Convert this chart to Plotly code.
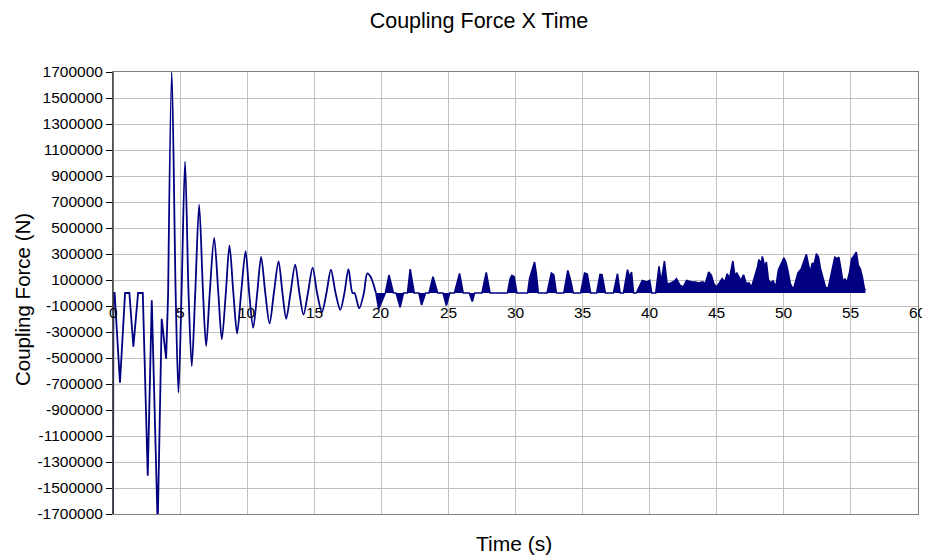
import plotly.graph_objects as go

# ---- data ----
# Part 1: damped oscillation (line), time in s, force in N
t_osc = [0.00, 0.03, 0.12, 0.52, 0.90, 1.22, 1.52, 1.87, 2.22, 2.59, 2.89, 3.33, 3.63, 3.96,
         4.11, 4.38, 4.67, 4.88, 5.11, 5.37, 5.63, 5.87, 6.13, 6.42, 6.71, 6.94, 7.21,
         7.54, 7.85, 8.11, 8.41, 8.68, 8.97, 9.25, 9.55, 9.88, 10.15, 10.45, 10.75, 11.04,
         11.35, 11.67, 11.99, 12.34, 12.63, 12.91, 13.23, 13.58, 13.89, 14.20, 14.53, 14.88,
         15.21, 15.57, 15.91, 16.24, 16.59, 16.94, 17.25, 17.55, 17.85, 18.00, 18.35, 18.70,
         18.95, 19.20, 19.60]
v_osc = [-1800000, 0, 0, -690000, 0, 0, -413000, 0, 0, -1406000, -55000, -1800000, -198000, -505000,
         0, 1700000, 0, -766000, 0, 1011000, 0, -562000, 0, 679000, 0, -408000, 0,
         424000, 0, -357000, 0, 367000, 0, -311000, 0, 321000, 0, -267000, 0, 278000,
         0, -234000, 0, 244000, 0, -198000, 0, 219000, 0, -166000, 0, 195000,
         0, -148000, 0, 179000, 0, -130000, 0, 184000, 0, 0, -118000, 0,
         151000, 125000, 0]

# Part 2: dense, spiky part (drawn filled to zero)
t_spk = [19.60, 19.80, 20.30, 20.57, 20.90, 21.10, 21.40, 21.65, 21.95, 22.15, 22.45, 22.80,
         23.00, 23.30, 23.55, 23.85, 24.20, 24.60, 24.85, 25.10, 25.45, 25.83, 26.10, 26.55,
         26.78, 26.95, 27.50, 27.82, 28.10, 29.40, 29.60, 29.73, 29.90, 30.10,
         30.90, 31.05, 31.25, 31.42, 31.55, 31.70, 32.35, 32.67, 32.85, 33.05, 33.60, 33.90,
         34.10, 34.30, 34.85, 35.15, 35.35, 35.60, 36.05, 36.30, 36.45, 36.70, 37.30, 37.60,
         37.80, 38.05, 38.35, 38.50, 38.65, 38.80, 39.00, 39.45, 39.80, 40.00, 40.15, 40.45,
         40.70, 40.85, 41.10, 41.30, 41.48, 41.85, 42.00, 42.25, 42.50, 42.75, 42.90, 43.15,
         43.40, 43.65, 43.95, 44.15, 44.40, 44.60, 44.78, 44.96, 45.20, 45.40, 45.60, 45.78,
         45.95, 46.20, 46.35, 46.50, 46.80, 47.00, 47.20, 47.40, 47.60, 47.90, 48.05, 48.14,
         48.30, 48.40, 48.58, 48.70, 48.85, 49.00, 49.20, 49.40, 49.60, 49.90, 50.00, 50.15,
         50.30, 50.48, 50.70, 50.90, 51.05, 51.30, 51.50, 51.68, 51.85, 52.00, 52.10, 52.28,
         52.43, 52.58, 52.73, 52.90, 53.10, 53.30, 53.50, 53.65, 53.80, 53.95, 54.10, 54.25,
         54.40, 54.55, 54.70, 54.90, 55.05, 55.20, 55.40, 55.55, 55.70, 55.85, 56.00, 56.08]
v_spk = [0, -123000, 0, 138000, 0, 0, -110000, 0, 0, 184000, 0, 0,
         -92000, 0, 0, 125000, 0, 0, -97000, 0, 0, 151000, 0, 0,
         -66000, 0, 0, 158000, 0, 0, 110000, 136000, 125000, 0,
         0, 110000, 180000, 238000, 150000, 0, 0, 153000, 140000, 0, 0, 174000,
         100000, 0, 0, 153000, 145000, 0, 0, 143000, 140000, 0, 0, 148000,
         0, 0, 179000, 120000, 161000, 0, 0, 97000, 85000, 97000, 0, 0,
         205000, 80000, 246000, 70000, 72000, 92000, 110000, 60000, 46000, 97000, 92000, 85000,
         85000, 77000, 85000, 72000, 161000, 136000, 72000, 46000, 77000, 110000, 85000, 148000,
         110000, 246000, 136000, 153000, 97000, 140000, 72000, 77000, 46000, 143000, 205000, 256000,
         225000, 281000, 200000, 238000, 102000, 77000, 92000, 46000, 179000, 246000, 271000, 238000,
         174000, 72000, 26000, 97000, 153000, 187000, 251000, 297000, 212000, 161000, 225000, 230000,
         302000, 276000, 187000, 128000, 46000, 33000, 123000, 200000, 276000, 263000, 276000, 187000,
         84000, 110000, 77000, 161000, 263000, 281000, 315000, 212000, 187000, 123000, 33000, 20000]

x_ticks = [0, 5, 10, 15, 20, 25, 30, 35, 40, 45, 50, 55, 60]
y_ticks = list(range(-1700000, 1700001, 200000))
y_tick_text = [str(v) for v in y_ticks]

# ---- figure (page body has an 8px margin, so figure is 922x550 and shifted) ----
OFF = 8
W, H = 930 - OFF, 558 - OFF
L, R, T, B = 113 - OFF, 918 - OFF, 72 - OFF, 514 - OFF
pw, ph = R - L, B - T
FONT = "Arial, Liberation Sans, sans-serif"
NAVY = "#000080"
SPLIT = 15  # first segment (up to t=4.11 s) drawn with straight segments

fig = go.Figure()
fig.add_trace(go.Scatter(x=t_osc[:SPLIT], y=v_osc[:SPLIT], mode="lines",
                         line=dict(color=NAVY, width=1.8),
                         showlegend=False, hoverinfo="skip"))
fig.add_trace(go.Scatter(x=t_osc[SPLIT - 1:], y=v_osc[SPLIT - 1:], mode="lines",
                         line=dict(color=NAVY, width=1.8, shape="spline", smoothing=0.85),
                         showlegend=False, hoverinfo="skip"))
fig.add_trace(go.Scatter(x=t_spk, y=v_spk, mode="lines", fill="tozeroy",
                         fillcolor=NAVY, line=dict(color=NAVY, width=1.6),
                         showlegend=False, hoverinfo="skip"))

annotations = []
for xt in x_ticks:
    annotations.append(dict(x=xt, y=0, xref="x", yref="y", text=str(xt), showarrow=False,
                            xanchor="center", yanchor="top", yshift=-9,
                            font=dict(family=FONT, size=15.5, color="#000")))
annotations.append(dict(x=(514 - OFF - L) / pw, y=(B - (543 - OFF)) / ph, xref="paper", yref="paper",
                        text="Time (s)", showarrow=False, xanchor="center", yanchor="middle",
                        font=dict(family=FONT, size=21, color="#000")))
annotations.append(dict(x=(22 - OFF - L) / pw, y=(B - (300 - OFF)) / ph, xref="paper", yref="paper",
                        text="Coupling Force (N)", showarrow=False, textangle=-90,
                        xanchor="center", yanchor="middle",
                        font=dict(family=FONT, size=20.5, color="#000")))

fig.update_layout(
    width=W, height=H,
    margin=dict(l=L, r=W - R, t=T, b=H - B, autoexpand=False),
    paper_bgcolor="white", plot_bgcolor="white",
    title=dict(text="Coupling Force X Time", x=(479 - OFF) / W, y=1 - (20 - OFF) / H,
               xanchor="center", yanchor="middle", xref="container", yref="container",
               font=dict(family=FONT, size=21.5, color="#000")),
    xaxis=dict(range=[0, 60], tickvals=x_ticks, showticklabels=False, ticks="",
               showgrid=True, gridcolor="#c0c0c0", gridwidth=1, zeroline=False,
               showline=True, linecolor="#808080", linewidth=1, mirror=True),
    yaxis=dict(range=[-1700000, 1700000], tickvals=y_ticks, ticktext=y_tick_text,
               ticks="outside", ticklen=6, tickcolor="#000",
               tickfont=dict(family=FONT, size=15.5, color="#000"),
               showgrid=True, gridcolor="#c0c0c0", gridwidth=1, zeroline=False,
               showline=True, linecolor="#808080", linewidth=1, mirror=True),
    annotations=annotations,
    shapes=[dict(type="line", xref="paper", yref="paper", x0=0, x1=0, y0=0, y1=1,
                 line=dict(color="#404040", width=1.5))],
)

fig.write_html("out.html")
